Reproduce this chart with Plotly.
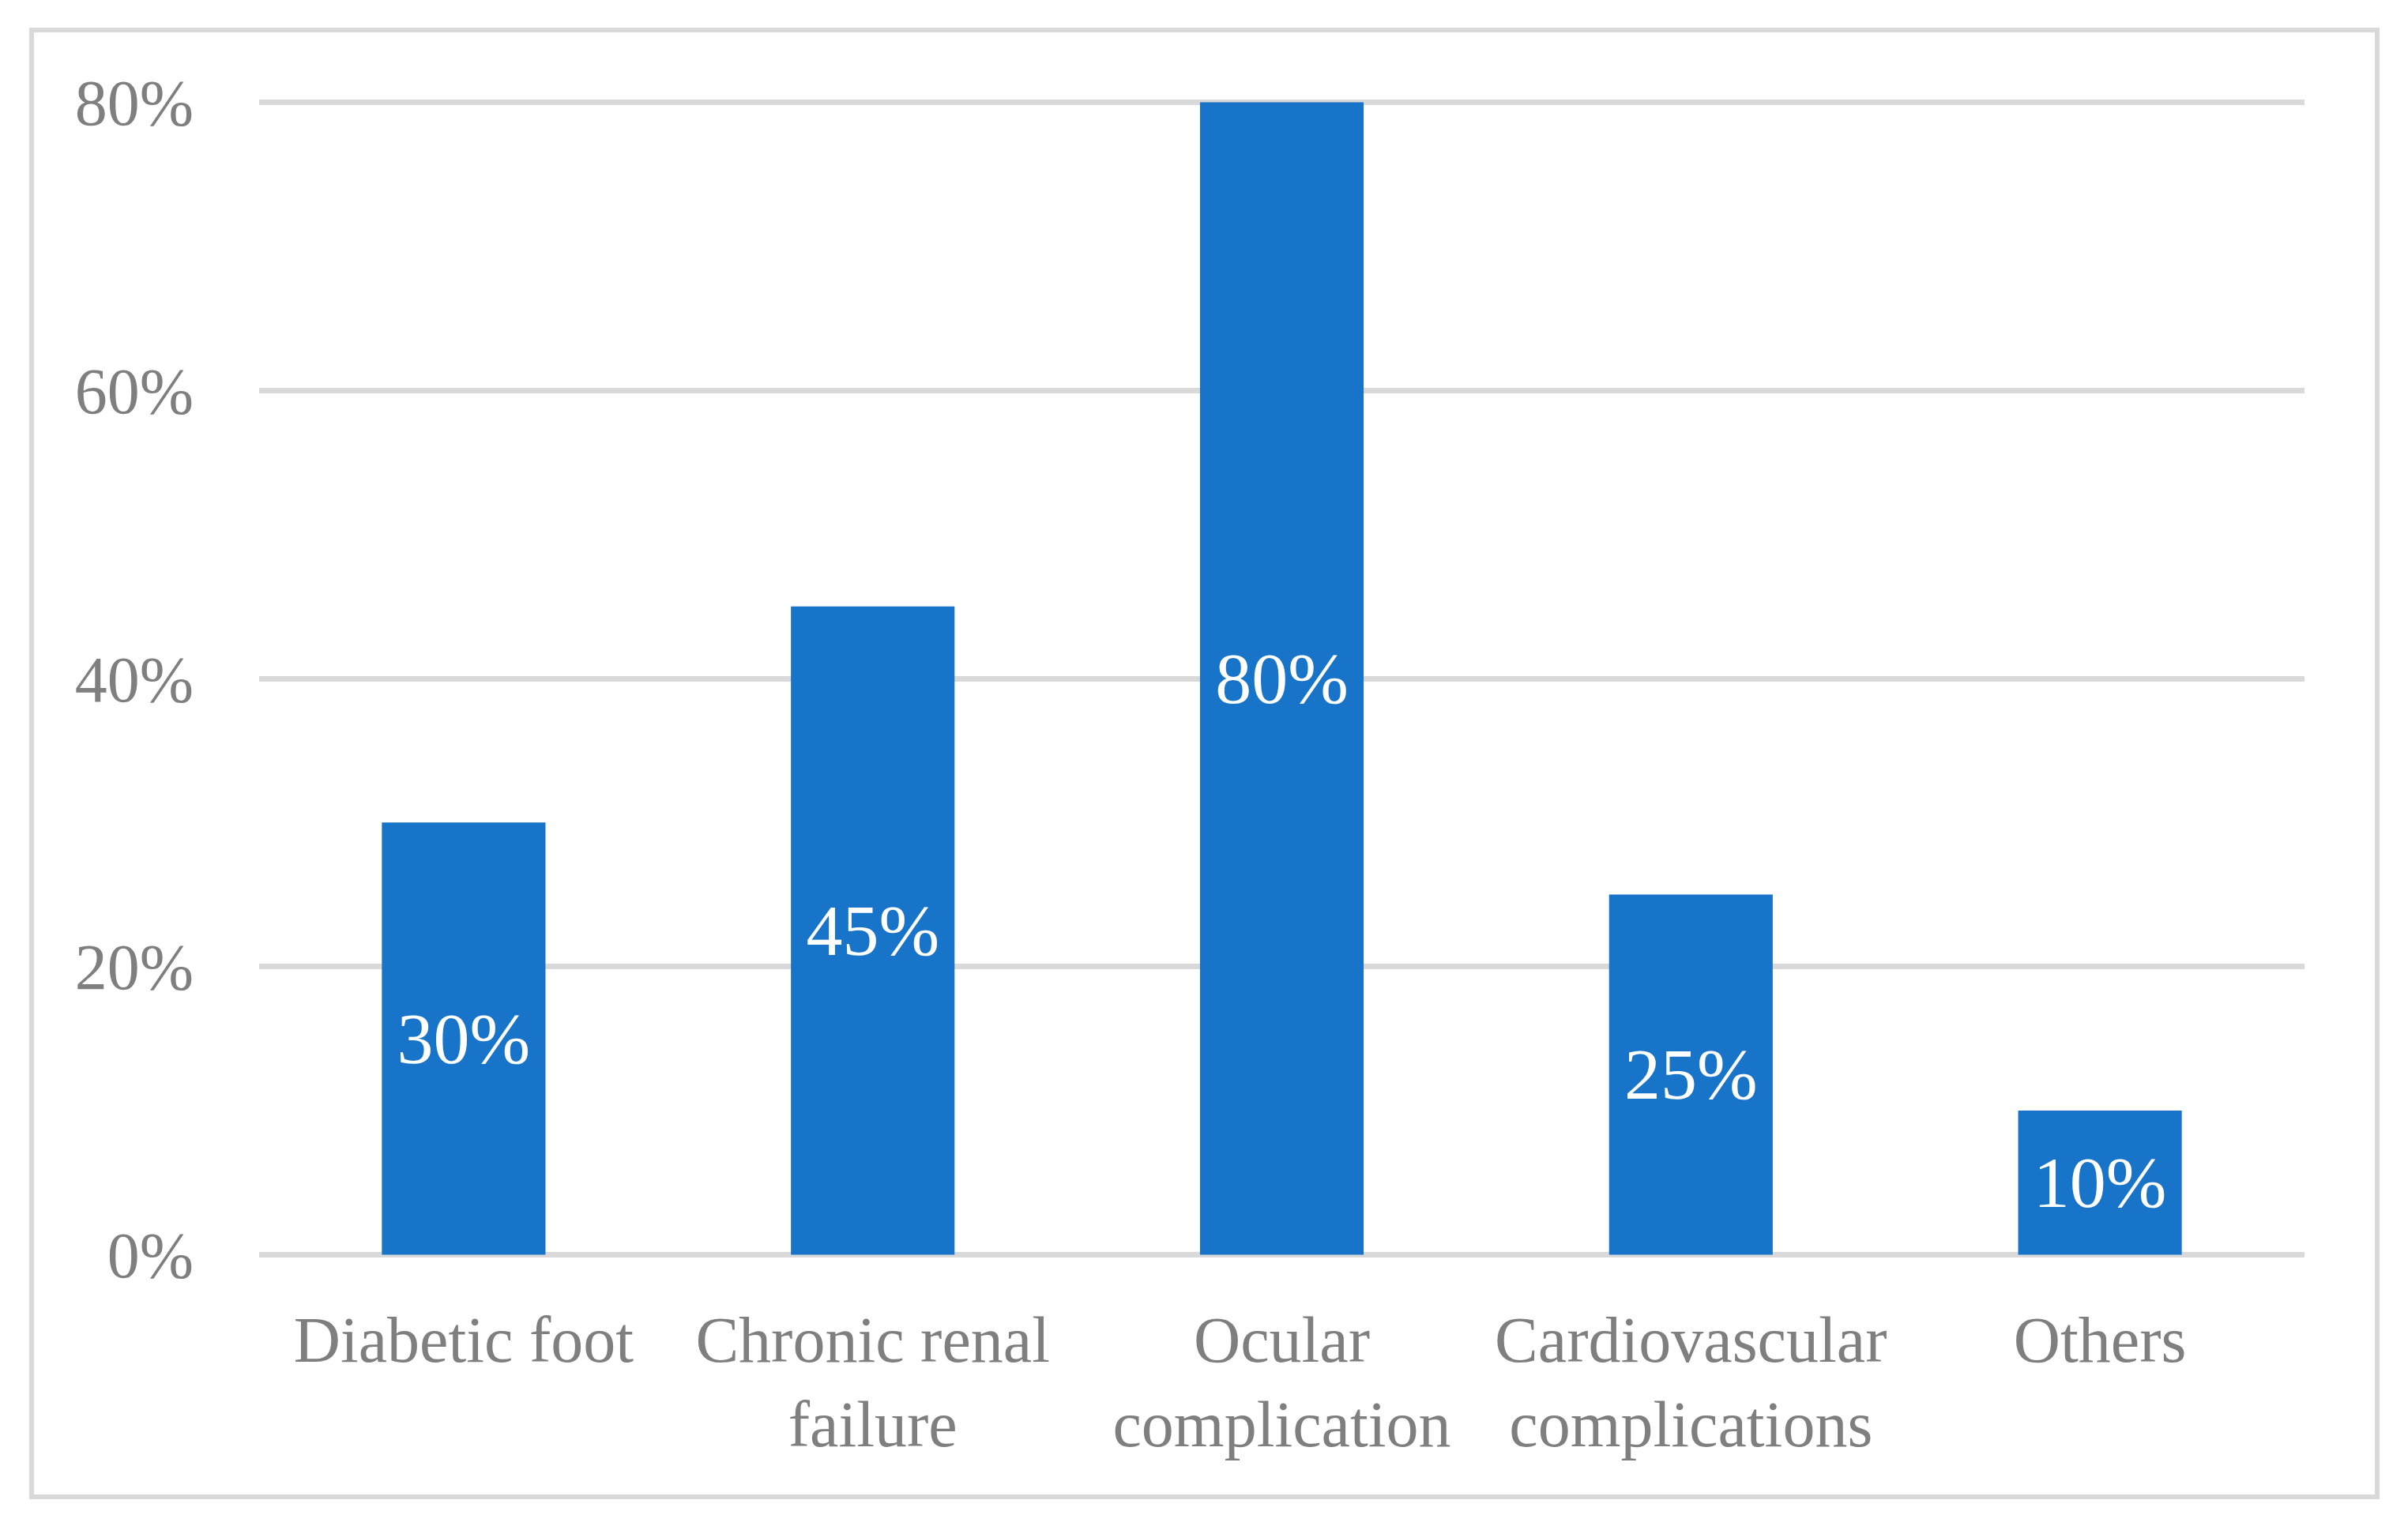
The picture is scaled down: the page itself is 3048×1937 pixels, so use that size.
import plotly.graph_objects as go

categories = ["Diabetic foot", "Chronic renal<br>failure", "Ocular<br>complication",
              "Cardiovascular<br>complications", "Others"]
values = [30, 45, 80, 25, 10]
value_labels = ["30%", "45%", "80%", "25%", "10%"]
y_ticks = [0, 20, 40, 60, 80]
y_tick_labels = ["0%", "20%", "40%", "60%", "80%"]

W, H = 3048, 1937
PAD = 0.25
L, R = 320, 139
T, B = 117, 352
pw, ph = W - L - R, H - T - B

def px_x(px):
    return (px - L) / pw

def px_y(py):
    return (H - B - py) / ph

FONT = "Liberation Serif"
GREY = "#7f7f7f"
GRID = "#d9d9d9"

fig = go.Figure(go.Bar(
    x=categories, y=values,
    marker=dict(color="#1874c9", line=dict(width=0)),
    text=value_labels, textposition="inside", insidetextanchor="middle",
    textfont=dict(family=FONT, size=92, color="white"),
    textangle=0, cliponaxis=False, hoverinfo="skip",
))

fig.update_layout(
    width=W, height=H, autosize=False,
    margin=dict(l=L, r=R, t=T, b=B, pad=0),
    paper_bgcolor="white", plot_bgcolor="white",
    bargap=0.6, showlegend=False,
    font=dict(family=FONT, color=GREY, size=82),
    xaxis=dict(showgrid=False, showline=False, zeroline=False, ticks="",
               tickfont=dict(family=FONT, size=82, color=GREY),
               ticklabelstandoff=48, range=[-0.5, 4.5]),
    yaxis=dict(range=[-PAD, 80 + PAD], tickvals=y_ticks, ticktext=y_tick_labels,
               showgrid=True, gridcolor=GRID, gridwidth=7, zeroline=False,
               showline=False, ticks="",
               tickfont=dict(family=FONT, size=82, color=GREY),
               ticklabelstandoff=82),
    shapes=[dict(type="rect", xref="paper", yref="paper",
                 x0=px_x(32), x1=px_x(3001), y0=px_y(1887), y1=px_y(30),
                 line=dict(color=GRID, width=6), fillcolor="rgba(0,0,0,0)",
                 layer="below")],
)

fig.write_html("out.html")
